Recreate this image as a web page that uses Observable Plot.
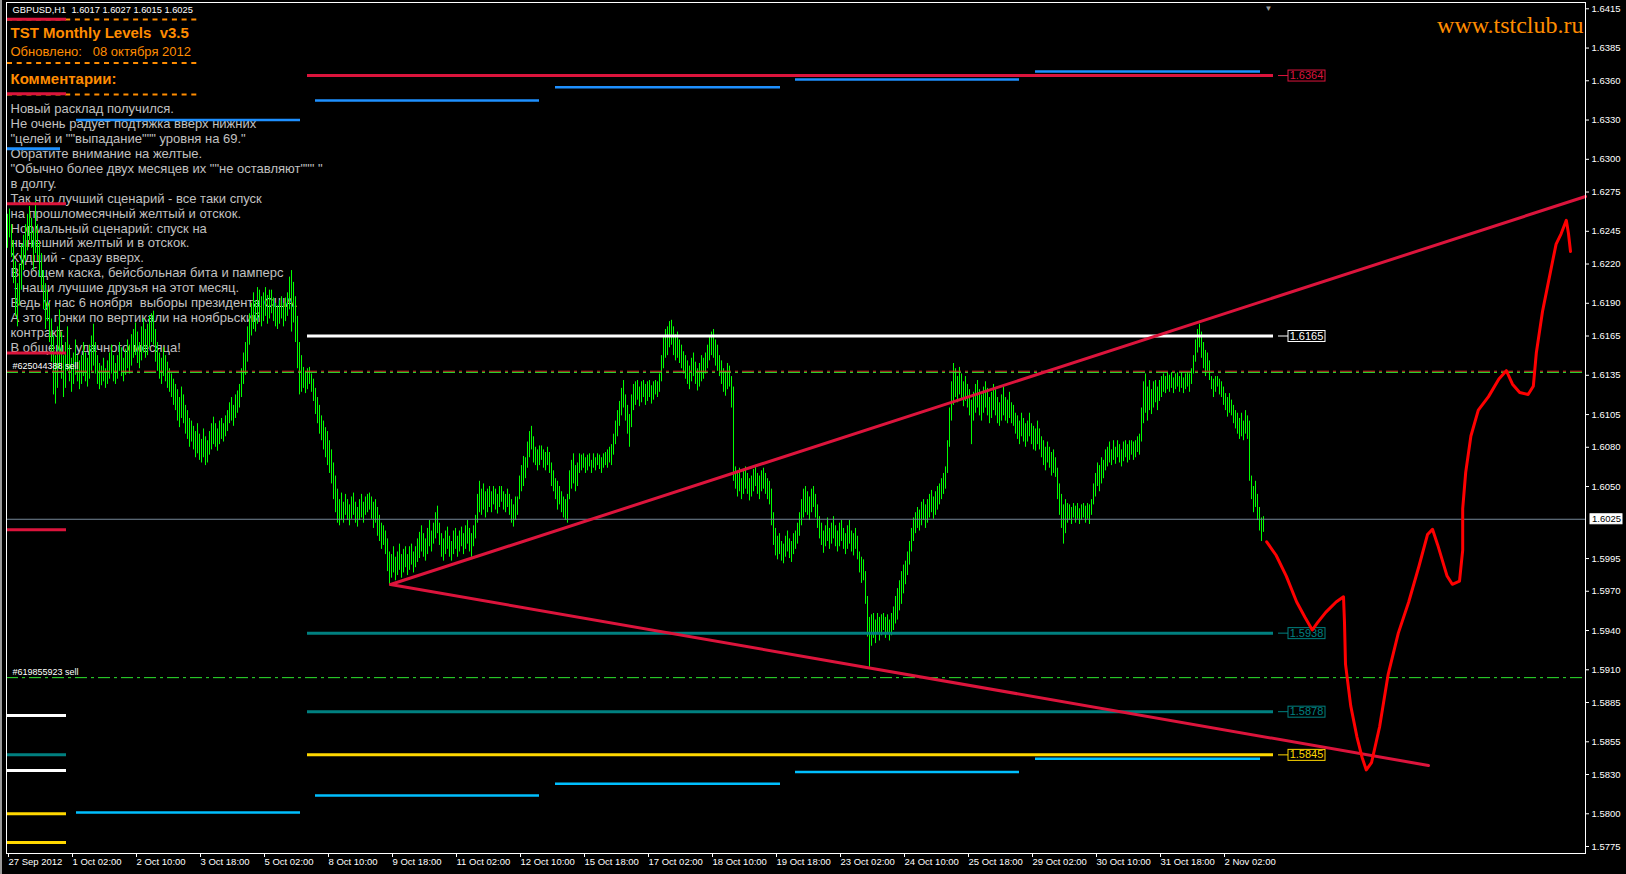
<!DOCTYPE html>
<html><head><meta charset="utf-8">
<script src="https://cdn.jsdelivr.net/npm/d3@7"></script>
<script src="https://cdn.jsdelivr.net/npm/@observablehq/plot@0.6"></script>
<style>
html,body{margin:0;padding:0;background:#000;overflow:hidden}
#edge{position:absolute;left:0;top:0;width:2px;height:874px;background:#9a9a9a}
svg text{white-space:pre}
</style></head><body><div id="chart"></div><div id="edge"></div>
<script>
// ---------- DATA ----------
const xTickBars = [0,32,64,96,128,160,192,224,256,288,320,352,384,416,448,480,512,544,576,608];
const xTickLabels = ["27 Sep 2012","1 Oct 02:00","2 Oct 10:00","3 Oct 18:00","5 Oct 02:00","8 Oct 10:00","9 Oct 18:00","11 Oct 02:00","12 Oct 10:00","15 Oct 18:00","17 Oct 02:00","18 Oct 10:00","19 Oct 18:00","23 Oct 02:00","24 Oct 10:00","25 Oct 18:00","29 Oct 02:00","30 Oct 10:00","31 Oct 18:00","2 Nov 02:00"];
const yTicks = [1.6415,1.6385,1.6360,1.6330,1.6300,1.6275,1.6245,1.6220,1.6190,1.6165,1.6135,1.6105,1.6080,1.6050,1.5995,1.5970,1.5940,1.5910,1.5885,1.5855,1.5830,1.5800,1.5775];

// hourly bars, pips above 1.5000
const barLow = [
1232,1240,1225,1205,1180,1172,1188,1200,1215,1222,
1230,1238,1232,1215,1228,1222,1210,1200,1185,1170,
1176,1160,1145,1120,1113,1125,1140,1132,1118,1125,
1138,1130,1122,1128,1135,1130,1124,1128,1134,1130,
1126,1132,1138,1142,1136,1128,1124,1127,1130,1125,
1128,1132,1136,1130,1128,1132,1138,1134,1130,1135,
1140,1136,1142,1148,1150,1144,1140,1146,1152,1148,
1150,1156,1160,1158,1145,1138,1132,1128,1134,1130,
1125,1122,1118,1112,1108,1100,1095,1102,1098,1090,
1086,1080,1084,1078,1072,1075,1070,1068,1072,1066,
1068,1074,1078,1082,1080,1077,1082,1086,1084,1088,
1092,1098,1100,1096,1102,1106,1110,1118,1128,1135,
1145,1158,1165,1170,1168,1174,1178,1172,1176,1180,
1174,1178,1182,1176,1172,1170,1174,1178,1172,1176,
1180,1185,1168,1175,1160,1140,1120,1122,1125,1121,
1124,1128,1122,1115,1105,1098,1090,1085,1078,1072,
1066,1060,1052,1040,1030,1022,1020,1024,1022,1028,
1024,1020,1025,1028,1022,1019,1024,1026,1022,1028,
1030,1032,1025,1018,1022,1012,1008,1002,1005,998,
985,975,980,984,978,982,986,980,984,988,
982,986,990,984,988,992,995,1000,996,993,
998,1004,1000,1006,1010,1014,1005,996,993,998,
1002,996,993,998,1002,996,1000,1004,998,1002,
1006,1000,996,1004,1010,1022,1030,1028,1032,1026,
1030,1034,1030,1036,1032,1029,1034,1038,1032,1030,
1034,1028,1022,1019,1024,1028,1040,1046,1050,1056,
1064,1072,1078,1068,1066,1062,1066,1070,1064,1062,
1066,1060,1050,1046,1040,1032,1036,1030,1026,1024,
1022,1040,1048,1052,1046,1050,1060,1062,1064,1060,
1062,1065,1060,1064,1062,1066,1063,1060,1064,1066,
1064,1068,1066,1074,1082,1088,1096,1104,1110,1100,
1090,1080,1095,1108,1112,1116,1111,1114,1118,1112,
1115,1118,1113,1116,1120,1118,1122,1130,1140,1148,
1150,1156,1158,1150,1146,1148,1144,1140,1136,1132,
1128,1124,1130,1134,1128,1123,1126,1130,1132,1136,
1140,1146,1150,1148,1142,1138,1134,1128,1122,1119,
1124,1126,1110,1054,1048,1042,1046,1040,1044,1048,
1044,1039,1042,1046,1050,1044,1040,1046,1048,1044,
1040,1036,1020,1005,997,994,998,993,991,996,
1000,995,992,998,1002,1006,1012,1020,1026,1030,
1028,1024,1030,1034,1026,1018,1010,1005,999,1004,
1008,1002,1006,1010,1004,1000,1004,1008,1002,998,
1002,1006,1000,997,1002,994,984,976,978,960,
935,912,928,934,930,938,932,936,940,934,
938,932,936,940,945,948,955,960,968,975,
982,990,1000,1008,1014,1018,1016,1020,1024,1018,
1022,1026,1030,1025,1028,1032,1036,1040,1044,1048,
1060,1080,1100,1112,1118,1114,1120,1116,1111,1115,
1110,1104,1082,1100,1106,1110,1104,1100,1106,1110,
1104,1098,1102,1108,1104,1098,1096,1100,1104,1100,
1098,1102,1098,1096,1090,1086,1082,1088,1084,1080,
1084,1088,1082,1078,1077,1082,1078,1072,1066,1062,
1068,1064,1058,1060,1057,1040,1028,1018,1006,1014,
1022,1024,1021,1026,1022,1025,1021,1024,1026,1022,
1025,1021,1028,1036,1042,1050,1046,1052,1056,1062,
1065,1068,1066,1070,1067,1072,1068,1065,1069,1072,
1068,1070,1074,1070,1072,1076,1074,1084,1098,1106,
1100,1108,1105,1110,1114,1108,1115,1118,1122,1121,
1124,1122,1125,1121,1124,1126,1122,1125,1121,1124,
1126,1122,1128,1136,1145,1152,1156,1148,1140,1134,
1138,1131,1124,1118,1122,1126,1120,1118,1112,1108,
1103,1106,1104,1098,1094,1090,1086,1088,1085,1090,
1086,1054,1040,1030,1034,1024,1016,1008,1015];
const barHigh = [
1258,1262,1250,1238,1222,1205,1220,1235,1242,1250,
1258,1264,1255,1245,1268,1250,1236,1228,1215,1205,
1200,1190,1178,1165,1150,1172,1185,1168,1150,1160,
1172,1158,1148,1152,1162,1150,1146,1150,1160,1152,
1148,1158,1165,1174,1160,1150,1144,1142,1148,1140,
1146,1152,1158,1150,1144,1150,1160,1156,1148,1155,
1162,1158,1166,1170,1175,1168,1160,1172,1178,1170,
1174,1180,1182,1184,1170,1160,1152,1148,1156,1150,
1145,1140,1136,1132,1128,1124,1118,1126,1120,1112,
1108,1102,1100,1096,1092,1098,1090,1086,1094,1088,
1085,1092,1098,1103,1098,1094,1100,1102,1098,1104,
1108,1114,1118,1112,1120,1123,1128,1140,1152,1160,
1172,1182,1190,1198,1192,1202,1200,1195,1198,1202,
1196,1200,1200,1194,1190,1188,1192,1195,1190,1194,
1198,1210,1215,1206,1195,1180,1160,1150,1141,1138,
1140,1141,1136,1132,1125,1118,1112,1104,1100,1095,
1092,1085,1078,1068,1058,1048,1040,1045,1038,1044,
1040,1036,1042,1045,1038,1034,1040,1044,1038,1042,
1044,1045,1042,1038,1040,1034,1028,1022,1020,1016,
1010,1000,998,1004,996,1000,1006,998,1002,1004,
998,1004,1006,1000,1004,1010,1015,1020,1014,1010,
1018,1024,1016,1022,1030,1035,1022,1014,1010,1016,
1019,1012,1008,1016,1018,1012,1016,1019,1014,1020,
1024,1018,1014,1020,1028,1044,1054,1048,1052,1046,
1048,1050,1046,1050,1048,1044,1050,1050,1046,1044,
1048,1044,1040,1036,1042,1042,1058,1066,1073,1072,
1084,1092,1096,1088,1080,1078,1081,1081,1078,1076,
1080,1076,1068,1062,1056,1054,1050,1046,1042,1040,
1044,1062,1070,1075,1066,1068,1075,1074,1075,1072,
1074,1075,1070,1075,1072,1075,1074,1072,1075,1076,
1078,1080,1082,1090,1100,1108,1115,1125,1131,1120,
1112,1105,1120,1128,1130,1131,1126,1130,1131,1128,
1130,1131,1127,1130,1131,1130,1136,1150,1164,1170,
1172,1176,1177,1172,1166,1168,1162,1158,1153,1150,
1146,1142,1148,1152,1145,1140,1144,1150,1148,1152,
1158,1165,1168,1170,1162,1158,1150,1146,1140,1138,
1144,1142,1134,1126,1065,1060,1064,1056,1062,1065,
1060,1056,1058,1063,1065,1060,1058,1062,1064,1060,
1056,1054,1048,1030,1018,1012,1014,1008,1006,1012,
1016,1010,1008,1014,1016,1022,1030,1040,1048,1050,
1046,1042,1048,1050,1044,1036,1027,1022,1016,1020,
1026,1018,1022,1027,1020,1016,1022,1024,1018,1014,
1020,1024,1016,1014,1018,1012,1000,996,994,985,
966,950,952,953,948,953,950,952,953,950,
952,948,953,958,966,972,978,985,990,993,
1000,1008,1018,1026,1030,1034,1032,1038,1040,1036,
1040,1044,1047,1042,1046,1050,1052,1056,1060,1065,
1085,1110,1130,1144,1140,1134,1141,1136,1130,1134,
1128,1124,1116,1122,1128,1131,1124,1120,1126,1130,
1125,1118,1122,1128,1124,1118,1114,1120,1126,1118,
1116,1122,1114,1112,1106,1104,1100,1106,1102,1098,
1100,1106,1098,1096,1094,1100,1094,1088,1085,1080,
1084,1080,1076,1078,1072,1064,1052,1044,1036,1040,
1037,1036,1034,1037,1035,1037,1033,1036,1037,1035,
1037,1036,1040,1052,1060,1068,1066,1072,1070,1078,
1080,1084,1078,1085,1080,1085,1082,1078,1084,1085,
1082,1085,1085,1084,1085,1088,1090,1110,1130,1136,
1126,1131,1124,1130,1131,1126,1131,1134,1136,1134,
1137,1135,1137,1133,1136,1137,1134,1137,1133,1136,
1137,1136,1140,1150,1162,1170,1174,1168,1160,1154,
1152,1146,1134,1132,1134,1134,1132,1130,1126,1121,
1118,1121,1116,1112,1108,1106,1102,1106,1100,1108,
1104,1100,1058,1050,1054,1044,1034,1026,1027];

// monthly levels (current month)
const monthLevels = [1.6364, 1.6165, 1.5938, 1.5878, 1.5845];
const monthColors = ["#dc143c", "#ffffff", "#008080", "#008080", "#ffd700"];
const monthFrom = 150, monthTo = 633;
// weekly levels
const weekFrom = [34.5, 154, 274, 394, 514];
const weekTo = [146.5, 266, 386.5, 506, 626.5];
const weekUpper = [1.6330, 1.6345, 1.6355, 1.6361, 1.6367];
const weekLower = [1.5801, 1.5814, 1.5823, 1.5832, 1.5842];
// previous month levels (short stubs at the left)
const prevLevels = [1.6407, 1.6350, 1.6308, 1.6266, 1.6152, 1.6017, 1.5875, 1.5845, 1.5833, 1.5800, 1.5778];
const prevColors = ["#dc143c","#dc143c","#1e90ff","#dc143c","#dc143c","#dc143c","#ffffff","#008080","#ffffff","#ffd700","#ffd700"];
const prevTo = [29.5,29.5,26.5,29.5,29.5,29.5,29.5,29.5,29.5,29.5,29.5];
// orders
const orderPrices = [1.61372, 1.5904];
const orderLabels = ["#625044388 sell", "#619855923 sell"];
const bidPrice = 1.6025;
// hand-drawn triangle
const triUpperX = [191.5, 789], triUpperY = [1.59752, 1.62716];
const triLowerX = [191.5, 710.5], triLowerY = [1.59752, 1.58369];
// hand-drawn forecast path
const forecastX = [629.6,634.3,639.4,644.6,648.8,652.4,655.0,659.1,664.3,668.0,668.5,669.0,671.6,674.7,677.3,679.4,682.0,686.1,690.3,695.4,700.6,705.8,710.0,712.5,715.1,719.8,722.4,726.0,727.6,727.6,729.1,731.7,735.4,740.5,745.7,749.4,752.5,756.1,760.3,762.9,764.4,767.5,770.1,772.7,774.3,776.8,779.4,780.5,781.5];
const forecastY = [1.60078,1.59975,1.59816,1.59618,1.59499,1.59404,1.59460,1.59539,1.59618,1.59658,1.59460,1.59143,1.58826,1.58588,1.58430,1.58335,1.58390,1.58668,1.59063,1.59380,1.59618,1.59895,1.60133,1.60173,1.60054,1.59816,1.59753,1.59777,1.60014,1.60331,1.60608,1.60886,1.61084,1.61187,1.61322,1.61385,1.61282,1.61219,1.61203,1.61266,1.61520,1.61837,1.62035,1.62233,1.62352,1.62431,1.62534,1.62431,1.62296];

// texts
const header = "GBPUSD,H1  1.6017 1.6027 1.6015 1.6025";
const title = "TST Monthly Levels  v3.5";
const updated = "Обновлено:   08 октября 2012";
const commentsTitle = "Комментарии:";
const comments = [
"Новый расклад получился.",
"Не очень радует подтяжка вверх нижних",
"\"целей и \"\"выпадание\"\"\" уровня на 69.\"",
"Обратите внимание на желтые.",
"\"Обычно более двух месяцев их \"\"не оставляют\"\"\" \"",
"в долгу.",
"Так что лучший сценарий - все таки спуск",
"на прошломесячный желтый и отскок.",
"Нормальный сценарий: спуск на",
"нынешний желтый и в отскок.",
"Худший - сразу вверх.",
"В общем каска, бейсбольная бита и памперс",
" - наши лучшие друзья на этот месяц.",
"Ведь у нас 6 ноября  выборы президента США.",
"А это - гонки по вертикали на ноябрьский",
"контракт.",
"В общем - удачного месяца!"];
const site = "www.tstclub.ru";

// ---------- BUILD ----------
const bars = barLow.map((lo, i) => ({i, lo: 1.5 + lo / 1e4, hi: 1.5 + barHigh[i] / 1e4}));
const months = monthLevels.map((p, k) => ({p, c: monthColors[k]}));
const weeks = weekFrom.map((f, k) => ({from: f, to: weekTo[k], up: weekUpper[k], lo: weekLower[k]}));
const prevs = prevLevels.map((p, k) => ({p, c: prevColors[k], to: prevTo[k]}));
const orders = orderPrices.map((p, k) => ({p, label: orderLabels[k]}));
const triU = triUpperX.map((x, k) => ({x, y: triUpperY[k]}));
const triL = triLowerX.map((x, k) => ({x, y: triLowerY[k]}));
const fc = forecastX.map((x, k) => ({x, y: forecastY[k]}));
const xLabelOf = new Map(xTickBars.map((b, k) => [b, xTickLabels[k]]));

const F = "Liberation Sans, Arial, sans-serif";
const orange = "#ff8c00";
const tl = (s, o) => Plot.text([s], Object.assign({frameAnchor: "top-left", text: d => d, textAnchor: "start", lineAnchor: "middle", fontFamily: F}, o));

const plot = Plot.plot({
  width: 1626, height: 874,
  marginLeft: 6, marginRight: 41, marginTop: 2, marginBottom: 21,
  style: {background: "#000", color: "#fff", fontFamily: F, overflow: "visible"},
  x: {domain: [-0.5, 789]},
  y: {domain: [1.576965, 1.64198]},
  color: {type: "identity"},
  marks: [
    tl(header, {dx: 6, dy: 8, fontSize: 9.3, fill: "#fff"}),
    tl(title, {dx: 4, dy: 30.3, fontSize: 15, fontWeight: "bold", fill: orange}),
    tl(updated, {dx: 4, dy: 49.7, fontSize: 13, fill: orange}),
    tl(commentsTitle, {dx: 4, dy: 76.3, fontSize: 15, fontWeight: "bold", fill: orange}),
    tl(comments.join("\n"), {dx: 4, dy: 100.3, fontSize: 13, lineAnchor: "top", lineHeight: 14.9 / 13, fill: "#c0c0c0"}),
    Plot.text([site], {frameAnchor: "top-right", text: d => d, dx: -2, dy: 23.3, fontSize: 24, fontFamily: "Liberation Serif, Times New Roman, serif", fill: orange, textAnchor: "end", lineAnchor: "middle"}),

    Plot.ruleX(bars, {x: "i", y1: "lo", y2: "hi", stroke: "#00ff00", strokeWidth: 1}),

    Plot.ruleY([bidPrice], {stroke: "#778899", strokeWidth: 1}),
    Plot.ruleY([orderPrices[0] + 0.00009], {stroke: "#e02828", strokeWidth: 1, strokeDasharray: "12,4,3,4"}),
    Plot.ruleY(orderPrices, {stroke: "#2ee62e", strokeWidth: 1, strokeDasharray: "12,4,3,4"}),
    Plot.text(orders, {frameAnchor: "left", y: "p", text: "label", dx: 6, dy: -6, fontSize: 9, fill: "#fff", textAnchor: "start", fontFamily: F}),

    Plot.ruleY(prevs, {y: "p", x1: -0.5, x2: "to", stroke: "c", strokeWidth: 3}),
    Plot.ruleY(weeks, {y: "up", x1: "from", x2: "to", stroke: "#1e90ff", strokeWidth: 2.5}),
    Plot.ruleY(weeks, {y: "lo", x1: "from", x2: "to", stroke: "#00bfff", strokeWidth: 2.5}),
    Plot.ruleY(months, {y: "p", x1: monthFrom, x2: monthTo, stroke: "c", strokeWidth: 3}),
    Plot.ruleY(months, {y: "p", x1: monthTo + 2.5, x2: monthTo + 7.5, stroke: "c", strokeWidth: 1}),
    Plot.text(months, {x: monthTo, y: "p", dx: 33, text: d => d.p.toFixed(4), fill: "c", fontSize: 11, textAnchor: "middle", fontFamily: F}),

    Plot.line(triU, {x: "x", y: "y", stroke: "#dc143c", strokeWidth: 3}),
    Plot.line(triL, {x: "x", y: "y", stroke: "#dc143c", strokeWidth: 3}),
    Plot.line(fc, {x: "x", y: "y", stroke: "#ff0000", strokeWidth: 3, strokeLinejoin: "round", strokeLinecap: "round"}),

    Plot.text(["▼"], {frameAnchor: "top", x: bars.length + 1.5, text: d => d, dy: 3, fontSize: 8, fill: "#9a9a9a"}),
    Plot.frame({stroke: "#fff"}),
    Plot.axisY({anchor: "right", ticks: yTicks, tickFormat: d => d.toFixed(4), tickSize: 3, tickPadding: 3, fontSize: 9.5, color: "#fff", fontFamily: F}),
    Plot.axisX({ticks: xTickBars, tickFormat: d => xLabelOf.get(d), tickSize: 4, tickPadding: 1, textAnchor: "start", dx: 1, fontSize: 9.5, color: "#fff", fontFamily: F}),
    Plot.text([bidPrice], {frameAnchor: "right", y: d => d, dx: 21, text: d => d.toFixed(4), fill: "#000", fontSize: 9.5, textAnchor: "middle", fontFamily: F})
  ]
});
document.getElementById("chart").append(plot);

// boxes around the level price labels and the bid price label
const NS = "http://www.w3.org/2000/svg";
const boxColor = new Map(months.map(m => [m.p.toFixed(4), m.c]));
const bidText = bidPrice.toFixed(4);
plot.querySelectorAll("text").forEach(t => {
  const g = t.closest("g[aria-label]");
  const lab = g ? g.getAttribute("aria-label") : "";
  if (/axis|tick/.test(lab)) return;
  const s = t.textContent;
  let bg, st;
  if (s === bidText) { bg = "#fff"; st = "#fff"; }
  else if (boxColor.has(s)) { bg = "#000"; st = boxColor.get(s); }
  else return;
  const bb = t.getBBox();
  const r = document.createElementNS(NS, "rect");
  r.setAttribute("x", Math.round(bb.x) - 1.5);
  r.setAttribute("y", Math.round(bb.y) + 0.5);
  r.setAttribute("width", Math.round(bb.width) + 3);
  r.setAttribute("height", Math.round(bb.height) - 1);
  r.setAttribute("fill", bg);
  r.setAttribute("stroke", st);
  r.setAttribute("stroke-width", 1);
  const tr = t.getAttribute("transform");
  if (tr) r.setAttribute("transform", tr);
  t.parentNode.insertBefore(r, t);
});

// dotted separators of the indicator panel (drawn behind everything else)
const firstG = plot.querySelector("g");
[19.5, 63, 94.5].forEach(yy => {
  const l = document.createElementNS(NS, "line");
  l.setAttribute("x1", 7); l.setAttribute("x2", 200);
  l.setAttribute("y1", yy); l.setAttribute("y2", yy);
  l.setAttribute("stroke", orange); l.setAttribute("stroke-width", 2);
  l.setAttribute("stroke-dasharray", "5,4.7");
  plot.insertBefore(l, firstG);
});
</script></body></html>
